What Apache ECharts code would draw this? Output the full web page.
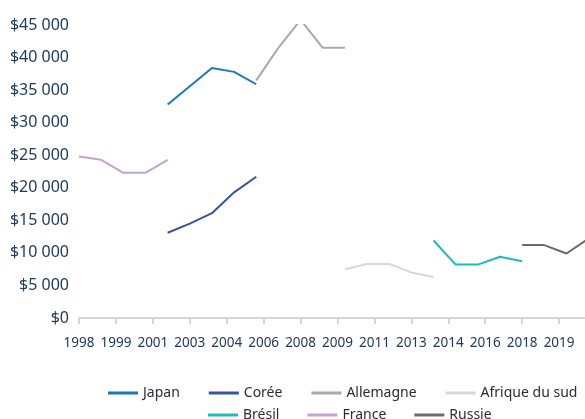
<!DOCTYPE html>
<html>
<head>
<meta charset="utf-8">
<script src="https://cdn.jsdelivr.net/npm/echarts@6/dist/echarts.min.js"></script>
<style>
  html, body { margin: 0; padding: 0; background: #fff; }
  #chart { width: 585px; height: 419px; }
</style>
</head>
<body>
<div id="chart"></div>
<script>
// valeurs (dollars)
var japanYears = [2002, 2003, 2004, 2005, 2006];
var japanValues = [32800, 35600, 38400, 37800, 35900];

var coreeYears = [2002, 2003, 2004, 2005, 2006];
var coreeValues = [13100, 14500, 16100, 19300, 21700];

var allemagneYears = [2006, 2007, 2008, 2009, 2010];
var allemagneValues = [36500, 41500, 45800, 41500, 41500];

var afriqueYears = [2010, 2011, 2012, 2013, 2014];
var afriqueValues = [7500, 8300, 8300, 7000, 6300];

var bresilYears = [2014, 2015, 2016, 2017, 2018];
var bresilValues = [11900, 8200, 8200, 9400, 8700];

var franceYears = [1998, 1999, 2000, 2001, 2002];
var franceValues = [24800, 24300, 22300, 22300, 24300];

var russieYears = [2018, 2019, 2020, 2021];
var russieValues = [11200, 11200, 9900, 12200];

var startYear = 1998;
var labelColor = '#1f3a60';

// axe en mois depuis janvier 1998, une graduation tous les 20 mois
function pts(years, values) {
  return years.map(function (y, i) { return [(y - startYear) * 12, values[i]]; });
}

function ligne(name, color, years, values) {
  return {
    name: name,
    type: 'line',
    symbol: 'none',
    data: pts(years, values),
    lineStyle: { color: color, width: 2 },
    itemStyle: { color: color }
  };
}

var myChart = echarts.init(document.getElementById('chart'));

var legendText = { fontFamily: 'Noto Sans', fontSize: 14, color: '#2b2b3a', padding: [0, 0, 0, 0] };

var option = {
  backgroundColor: '#fff',
  animation: false,
  grid: { left: 79, right: -11, top: 25, bottom: 101, outerBoundsMode: 'none' },
  legend: [
    {
      data: ['Japan', 'Corée', 'Allemagne', 'Afrique du sud'],
      left: 108, top: 386, padding: 0,
      icon: 'rect',
      itemWidth: 30, itemHeight: 3, itemGap: 29,
      textStyle: legendText
    },
    {
      data: ['Brésil', 'France', 'Russie'],
      left: 208, top: 408, padding: 0,
      icon: 'rect',
      itemWidth: 30, itemHeight: 3, itemGap: 28,
      textStyle: legendText
    }
  ],
  xAxis: {
    type: 'value',
    min: 0,
    max: 280,
    interval: 20,
    axisLine: { show: true, lineStyle: { color: '#d6d6d6', width: 2 } },
    axisTick: { show: true, length: 6, lineStyle: { color: '#d6d6d6', width: 2 } },
    splitLine: { show: false },
    axisLabel: {
      margin: 18,
      showMaxLabel: false,
      fontFamily: 'Noto Sans',
      fontSize: 13.5,
      color: labelColor,
      formatter: function (v) { return String(startYear + Math.floor(v / 12)); }
    }
  },
  yAxis: {
    type: 'value',
    min: 0,
    max: 45000,
    interval: 5000,
    axisLine: { show: false },
    axisTick: { show: false },
    splitLine: { show: false },
    axisLabel: {
      margin: 10,
      fontFamily: 'Noto Sans',
      fontSize: 16,
      color: labelColor,
      formatter: function (v) {
        return '$' + String(v).replace(/\B(?=(\d{3})+(?!\d))/g, ' ');
      }
    }
  },
  series: [
    ligne('Japan', '#1b77c0', japanYears, japanValues),
    ligne('Corée', '#3953a0', coreeYears, coreeValues),
    ligne('Allemagne', '#a9a9ab', allemagneYears, allemagneValues),
    ligne('Afrique du sud', '#d8d8d8', afriqueYears, afriqueValues),
    ligne('Brésil', '#1bbcbc', bresilYears, bresilValues),
    ligne('France', '#c2a3d4', franceYears, franceValues),
    ligne('Russie', '#6a6a70', russieYears, russieValues)
  ]
};

myChart.setOption(option);
</script>
</body>
</html>
